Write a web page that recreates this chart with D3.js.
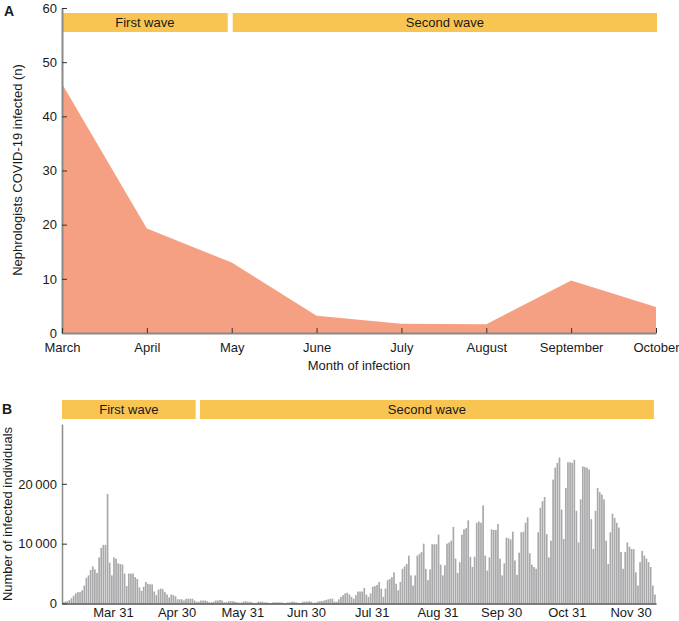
<!DOCTYPE html>
<html><head><meta charset="utf-8">
<script src="https://cdn.jsdelivr.net/npm/d3@7"></script>
<style>
body{margin:0;background:#fff}
svg text{font-family:"Liberation Sans",Arial,Helvetica,sans-serif;fill:#1a1a1a}
</style>
</head><body>
<svg id="c" width="679" height="621"></svg>
<script>
// ---------- Panel A data ----------
const months = ["March","April","May","June","July","August","September","October"];
const nephrologists = [46, 19.3, 13, 3.2, 1.7, 1.6, 9.7, 4.8];
const yTicksA = [0, 10, 20, 30, 40, 50, 60];
const wavesA = [
  {label: "First wave", from: "March", to: "May"},
  {label: "Second wave", from: "May", to: "October"}
];

// ---------- Panel B data ----------
const startDate = "2020-03-07";
const daily = [
  200,300,400,600,900,1300,1700,1900,1900,2200,
  3000,4300,4700,5600,6200,5700,5100,7700,9300,9800,
  9800,18300,6800,4700,7700,7500,6700,6600,6500,5000,
  2900,5000,5000,5000,4400,4100,2700,2100,2800,3600,
  3300,3200,3200,2000,1400,2300,2500,2400,1900,1500,
  1000,1500,1400,1200,700,700,700,500,800,800,
  800,800,500,300,300,500,500,500,400,200,
  200,300,500,500,600,500,200,200,400,400,
  400,300,200,150,150,300,400,300,300,200,
  100,100,300,300,300,200,200,100,100,200,
  200,200,200,200,100,100,200,200,300,300,
  200,100,100,300,300,300,400,300,100,150,
  300,400,400,500,600,700,800,800,300,300,
  700,1100,1400,1700,1800,1500,1100,800,1400,2000,
  2000,2000,2600,1500,1100,1700,2800,2900,3100,3600,
  2500,1100,2500,3900,4100,4400,5200,3300,2200,3600,
  5800,6200,6600,8000,4700,3000,4700,8000,8300,8600,
  10000,5800,3900,5700,9900,9900,9900,11500,6500,4700,
  6400,10000,10200,10500,12800,7500,5100,6900,11500,12400,
  12600,13900,7800,6100,7800,13500,13700,13500,16400,8000,
  5500,7700,12400,12300,12300,13300,7500,4700,6700,11000,
  10900,10700,12000,7200,4800,8500,11900,12000,13500,14400,
  8400,6500,6100,5800,11900,16000,17100,17800,11600,7700,
  10500,20700,22700,23500,24400,15700,10800,19300,23600,23600,
  23500,24000,15500,10200,17400,22900,22800,22700,22400,14100,
  9100,15500,19300,18600,18200,17400,10500,6600,11900,15000,
  14300,13500,12700,8600,5800,8600,10200,9500,9100,9100,
  5200,3000,6900,8800,8000,7500,6900,6100,3000,1500
];
const dateTicks = ["2020-03-31","2020-04-30","2020-05-31","2020-06-30","2020-07-31","2020-08-31","2020-09-30","2020-10-31","2020-11-30"];
const dateTickLabels = ["Mar 31","Apr 30","May 31","Jun 30","Jul 31","Aug 31","Sep 30","Oct 31","Nov 30"];
const yTicksB = [0, 10000, 20000];
const wavesB = [
  {label: "First wave", from: "2020-03-07", to: "2020-05-09"},
  {label: "Second wave", from: "2020-05-11", to: "2020-12-11"}
];

// ---------- drawing ----------
const svg = d3.select("#c");
const FONT = '"Liberation Sans",Arial,Helvetica,sans-serif';
const waveFill = "#F8C553";
const areaFill = "#F6A083";
const barFill = "#A9A9AB";

function styleAxis(g, domainColor, domainWidth) {
  g.attr("font-family", FONT).attr("font-size", 13);
  g.select(".domain").attr("stroke", domainColor).attr("stroke-width", domainWidth);
  g.selectAll(".tick line").attr("stroke", "#333");
  g.selectAll(".tick text").attr("fill", "#1a1a1a");
}

// Panel A
const xA = d3.scalePoint().domain(months).range([62, 656]);
const yA = d3.scaleLinear().domain([0, 60]).range([333, 8]);

const areaA = d3.area()
  .x((d, i) => xA(months[i]))
  .y0(yA(0))
  .y1(d => yA(d));
svg.append("path").datum(nephrologists).attr("d", areaA).attr("fill", areaFill);

// wave bars A
const gWA = svg.append("g");
wavesA.forEach((w, i) => {
  const x0 = xA(w.from) + (i === 0 ? 0 : 1);
  const x1 = xA(w.to) - (i === 0 ? 4 : -1);
  gWA.append("rect").attr("x", x0).attr("y", 13).attr("width", x1 - x0).attr("height", 19).attr("fill", waveFill);
  gWA.append("text").attr("x", (x0 + x1) / 2).attr("y", 27).attr("text-anchor", "middle")
    .attr("font-size", 13).text(w.label);
});

const axAy = svg.append("g").attr("transform", "translate(62,0)")
  .call(d3.axisLeft(yA).tickValues(yTicksA).tickSizeInner(-5).tickSizeOuter(0).tickPadding(5));
styleAxis(axAy, "#8a8a8a", 2);
const axAx = svg.append("g").attr("transform", `translate(0,${yA(0)})`)
  .call(d3.axisBottom(xA).tickSizeInner(-5).tickSizeOuter(0).tickPadding(10));
styleAxis(axAx, "#8a8a8a", 2);

svg.append("text").attr("x", 359).attr("y", 370).attr("text-anchor", "middle").attr("font-size", 13).text("Month of infection");
svg.append("text").attr("transform", "translate(22,170) rotate(-90)").attr("text-anchor", "middle")
  .attr("font-size", 13).text("Nephrologists COVID-19 infected (n)");
svg.append("text").attr("x", 4).attr("y", 16).attr("font-size", 14).attr("font-weight", "bold").text("A");

// Panel B
const parse = d3.utcParse("%Y-%m-%d");
const t0 = parse(startDate);
const xB = d3.scaleUtc().domain([t0, parse("2020-12-12")]).range([62, 656]);
const yB = d3.scaleLinear().domain([0, 30000]).range([603.5, 424]);
const dayW = xB(d3.utcDay.offset(t0, 1)) - xB(t0);

svg.append("g").selectAll("rect").data(daily).join("rect")
  .attr("x", (d, i) => xB(d3.utcDay.offset(t0, i)) + 0.2)
  .attr("width", dayW * 0.8)
  .attr("y", d => yB(d))
  .attr("height", d => yB(0) - yB(d))
  .attr("fill", barFill);

const gWB = svg.append("g");
wavesB.forEach(w => {
  const x0 = xB(parse(w.from)), x1 = xB(parse(w.to));
  gWB.append("rect").attr("x", x0).attr("y", 400).attr("width", x1 - x0).attr("height", 19).attr("fill", waveFill);
  gWB.append("text").attr("x", (x0 + x1) / 2).attr("y", 414).attr("text-anchor", "middle")
    .attr("font-size", 13).text(w.label);
});

const fmtB = v => d3.format(",")(v).replace(/,/g, "\u2009");
const axBy = svg.append("g").attr("transform", "translate(62,0)")
  .call(d3.axisLeft(yB).tickValues(yTicksB).tickFormat(fmtB).tickSizeInner(-5).tickSizeOuter(0).tickPadding(5));
styleAxis(axBy, "#8a8a8a", 1.5);
const axBx = svg.append("g").attr("transform", `translate(0,${yB(0)})`)
  .call(d3.axisBottom(xB).tickValues(dateTicks.map(parse))
    .tickFormat((d, i) => dateTickLabels[i]).tickSize(0).tickPadding(4));
styleAxis(axBx, "#555", 1.5);

svg.append("text").attr("transform", "translate(12,514) rotate(-90)").attr("text-anchor", "middle")
  .attr("font-size", 13).text("Number of infected individuals");
svg.append("text").attr("x", 2).attr("y", 414).attr("font-size", 14).attr("font-weight", "bold").text("B");
</script>
</body></html>
